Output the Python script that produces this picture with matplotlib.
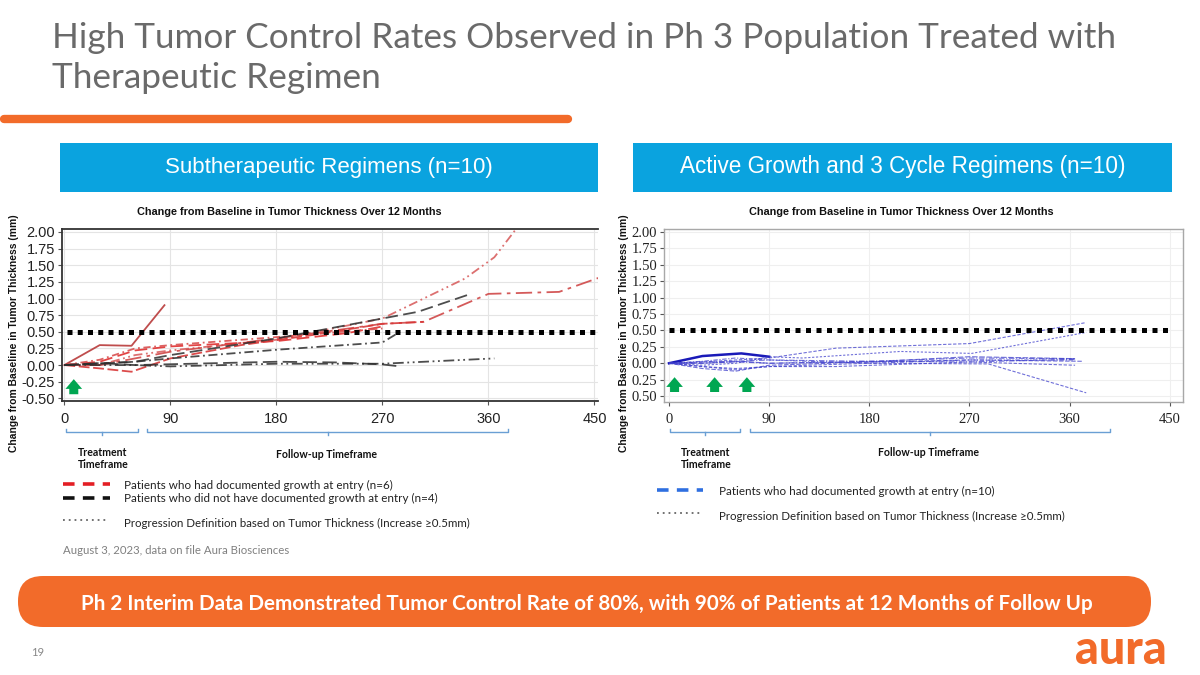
import matplotlib
matplotlib.use("Agg")
import matplotlib.pyplot as plt
from matplotlib.patches import FancyBboxPatch, Rectangle
from matplotlib.lines import Line2D

# ---------------- data ----------------
x_ticks = [0, 90, 180, 270, 360, 450]
y_ticks = [2.00, 1.75, 1.50, 1.25, 1.00, 0.75, 0.50, 0.25, 0.00, -0.25, -0.50]
left_ytick_labels = ["2.00", "1.75", "1.50", "1.25", "1.00", "0.75", "0.50", "0.25", "0.00", "-0.25", "-0.50"]
right_ytick_labels = ["2.00", "1.75", "1.50", "1.25", "1.00", "0.75", "0.50", "0.25", "0.00", "0.25", "0.50"]
progression_threshold = 0.5

# Left panel: patients with documented growth at entry (red, n=6)
red_days = [
    [0, 30, 57, 85],
    [0, 30, 60, 90, 180, 270, 340, 365, 388],
    [0, 30, 60, 90, 180, 270, 305, 360, 420, 455],
    [0, 30, 60, 90, 180, 240, 270],
    [0, 30, 57, 90, 150, 210, 270, 305],
    [0, 30, 60, 90, 180, 270],
]
red_vals = [
    [0.00, 0.30, 0.29, 0.90],
    [0.00, 0.00, 0.15, 0.22, 0.38, 0.70, 1.30, 1.62, 2.15],
    [0.00, 0.00, 0.10, 0.20, 0.40, 0.62, 0.65, 1.07, 1.10, 1.32],
    [0.00, 0.05, 0.22, 0.28, 0.36, 0.48, 0.58],
    [0.00, -0.05, -0.10, 0.10, 0.30, 0.45, 0.62, 0.65],
    [0.00, 0.08, 0.25, 0.30, 0.42, 0.55],
]
# Left panel: patients without documented growth at entry (black, n=4)
black_days = [
    [0, 30, 60, 90, 180, 270, 300, 345],
    [0, 60, 90, 180, 270, 285],
    [0, 60, 90, 180, 270, 365],
    [0, 30, 60, 180, 230, 270, 285],
]
black_vals = [
    [0.00, 0.02, 0.05, 0.15, 0.40, 0.70, 0.80, 1.07],
    [0.00, 0.05, 0.10, 0.23, 0.34, 0.50],
    [0.00, 0.00, -0.02, 0.02, 0.02, 0.10],
    [0.00, 0.03, 0.00, 0.05, 0.04, 0.01, -0.02],
]
# Right panel: patients with documented growth at entry (blue, n=10)
blue_days = [
    [0, 30, 65, 90],
    [0, 30, 60, 90, 150, 270, 375],
    [0, 30, 60, 90, 120, 208, 272, 375],
    [0, 30, 60, 90, 180, 287, 375],
    [0, 30, 60, 90, 180, 270, 365],
    [0, 30, 60, 90, 180, 270, 372],
    [0, 30, 60, 90, 180, 270, 365],
    [0, 30, 60, 90, 150, 270, 365],
    [0, 30, 60, 90, 180, 270, 365],
    [0, 30, 65, 90, 180, 270, 365],
]
blue_vals = [
    [0.00, 0.11, 0.15, 0.10],
    [0.00, 0.02, 0.05, 0.08, 0.23, 0.30, 0.62],
    [0.00, -0.03, 0.00, 0.10, 0.08, 0.18, 0.15, 0.47],
    [0.00, -0.05, -0.10, -0.05, 0.00, -0.01, -0.45],
    [0.00, 0.02, 0.03, 0.05, 0.03, 0.08, 0.07],
    [0.00, -0.08, -0.12, -0.03, 0.02, 0.05, 0.03],
    [0.00, 0.00, 0.02, 0.00, 0.03, 0.02, 0.06],
    [0.00, -0.05, -0.08, -0.05, -0.05, 0.02, -0.03],
    [0.00, 0.03, 0.08, 0.05, 0.00, 0.05, 0.05],
    [0.00, 0.00, 0.03, 0.00, 0.02, 0.10, 0.07],
]
left_arrow_days = [8]
right_arrow_days = [5, 41, 70]

# ---------------- text ----------------
title_lines = ["High Tumor Control Rates Observed in Ph 3 Population Treated with",
               "Therapeutic Regimen"]
left_header = "Subtherapeutic Regimens (n=10)"
right_header = "Active Growth and 3 Cycle Regimens (n=10)"
chart_title = "Change from Baseline in Tumor Thickness Over 12 Months"
y_label = "Change from Baseline in Tumor Thickness (mm)"
left_legend = ["Patients who had documented growth at entry (n=6)",
               "Patients who did not have documented growth at entry (n=4)",
               "Progression Definition based on Tumor Thickness (Increase \u22650.5mm)"]
right_legend = ["Patients who had documented growth at entry (n=10)",
                "Progression Definition based on Tumor Thickness (Increase \u22650.5mm)"]
source_note = "August 3, 2023, data on file Aura Biosciences"
banner_text = "Ph 2 Interim Data Demonstrated Tumor Control Rate of 80%, with 90% of Patients at 12 Months of Follow Up"

ORANGE = "#F26B2A"
BLUE_BOX = "#0AA3DF"
GRAY_T = "#6A6A6A"
BRACKET = "#6A9FD4"
GREEN = "#00A651"

W, H = 1200, 675
fig = plt.figure(figsize=(12, 6.75), dpi=100)
fig.patch.set_facecolor("white")

deco = fig.add_axes([0, 0, 1, 1], zorder=0)
deco.set_xlim(0, W)
deco.set_ylim(H, 0)
deco.axis("off")

renderer = fig.canvas.get_renderer()


def fit_text(x, y, s, width_px, ref_size=12, ax=deco, **kw):
    t = ax.text(x, y, s, fontsize=ref_size, **kw)
    bb = t.get_window_extent(renderer=renderer)
    t.set_fontsize(ref_size * width_px / bb.width)
    return t


SANS = ["Lato", "DejaVu Sans"]
NARROW = ["Liberation Sans Narrow", "Liberation Sans", "DejaVu Sans"]
LIB = ["Liberation Sans", "DejaVu Sans"]

# Title
t1 = fit_text(52, 38, title_lines[0], 1061, family=SANS, weight="normal",
              color=GRAY_T, va="center", ha="left")
deco.text(52, 78, title_lines[1], fontsize=t1.get_fontsize(), family=SANS,
          weight="normal", color=GRAY_T, va="center", ha="left")

# Orange underline
deco.plot([4, 568], [119, 119], color=ORANGE, lw=6, solid_capstyle="round")

# Header boxes
for (x0, x1, txt, tw) in [(60, 598, left_header, 328), (633, 1172, right_header, 446)]:
    deco.add_patch(Rectangle((x0, 143), x1 - x0, 49, color=BLUE_BOX, lw=0))
    fit_text((x0 + x1) / 2, 167, txt, tw, family=LIB, color="white", ha="center", va="center")

# Chart titles
fit_text(289, 212, chart_title, 302, family=NARROW, weight="bold", color="#111111",
         ha="center", va="center")
fit_text(901, 212, chart_title, 302, family=NARROW, weight="bold", color="#111111",
         ha="center", va="center")

# Y labels
for xl in (14, 624):
    t = deco.text(xl, 333, y_label, fontsize=10, family=NARROW, weight="bold",
                  rotation=90, ha="center", va="center", color="#111111")
    bb = t.get_window_extent(renderer=renderer)
    t.set_fontsize(10 * 236 / bb.height)


# ---------------- charts ----------------
def setup_axes(rect, xlim, ylim, serif, ylabels, frame_color, frame_lw, right_spine):
    ax = fig.add_axes(rect, zorder=2)
    ax.set_facecolor("white")
    ax.set_xlim(*xlim)
    ax.set_ylim(*ylim)
    ax.set_xticks(x_ticks)
    ax.set_yticks(y_ticks)
    ax.set_yticklabels(ylabels)
    fam = ["Liberation Serif", "DejaVu Serif"] if serif else NARROW
    for lab in ax.get_xticklabels() + ax.get_yticklabels():
        lab.set_family(fam)
        lab.set_fontsize(10.5)
        lab.set_color("#222222")
    ax.tick_params(axis="both", direction="out", length=3, width=0.8, color="#555555", pad=2)
    ax.tick_params(axis="x", pad=5)
    ax.grid(True, color="#E4E4E4", lw=0.8)
    ax.set_axisbelow(True)
    for sp in ax.spines.values():
        sp.set_color(frame_color)
        sp.set_linewidth(frame_lw)
    ax.spines["right"].set_visible(right_spine)
    return ax


# left axes: pixel box 62..598 x, 229..401 y
axL = setup_axes([62 / W, 1 - 401 / H, (598 - 62) / W, (401 - 229) / H],
                 (-2, 453), (-0.54, 2.045), False, left_ytick_labels, "#333333", 1.3, False)
# right axes: pixel box 664..1183, 229..402
axR = setup_axes([664 / W, 1 - 402 / H, (1183 - 664) / W, (402 - 229) / H],
                 (-4.5, 462), (-0.59, 2.045), True, right_ytick_labels, "#A8A8A8", 1.0, True)
axR.grid(True, color="#EFEFEF", lw=0.8)

red_styles = ["-", (0, (5, 2, 1, 2, 1, 2)), (0, (9, 3, 2, 3)), (0, (7, 3)), (0, (6, 2)), (0, (4, 2, 1, 2))]
red_colors = ["#B83A3A", "#D96060", "#D04848", "#E03030", "#D83838", "#D85050"]
for d, v, ls, c in zip(red_days, red_vals, red_styles, red_colors):
    axL.plot(d, v, color=c, ls=ls, lw=1.3, alpha=0.9, clip_on=True, zorder=3)

black_styles = [(0, (7, 3)), (0, (5, 2, 1, 2)), (0, (6, 2, 1, 2, 1, 2)), (0, (8, 3))]
for d, v, ls in zip(black_days, black_vals, black_styles):
    axL.plot(d, v, color="#2E2E2E", ls=ls, lw=1.3, alpha=0.85, zorder=3)

blue_styles = ["-", (0, (3, 1.5)), (0, (2, 1.5)), (0, (3, 1.5)), (0, (5, 1.5, 1, 1.5)),
               (0, (4, 1.5)), (0, (5, 1.5, 1, 1.5)), (0, (3, 1.5)), (0, (4, 1.5, 1, 1.5)), (0, (5, 1.5))]
for i, (d, v, ls) in enumerate(zip(blue_days, blue_vals, blue_styles)):
    if i == 0:
        axR.plot(d, v, color="#1A1AB8", ls=ls, lw=1.8, zorder=3)
    else:
        axR.plot(d, v, color="#4040CC", ls=ls, lw=0.8, alpha=0.75, zorder=3)

# Progression threshold lines
axL.plot([2, 453], [progression_threshold] * 2, color="black", lw=3.6,
         ls=(0, (1, 1.05)), zorder=4, solid_capstyle="butt")
axR.plot([0, 452], [progression_threshold] * 2, color="black", lw=3.6,
         ls=(0, (1, 1.1)), zorder=4)

# Green arrows
for ax, days in ((axL, left_arrow_days), (axR, right_arrow_days)):
    for dx in days:
        ax.annotate("", xy=(dx, -0.17), xytext=(dx, -0.48),
                    arrowprops=dict(arrowstyle="simple,head_width=1.2,head_length=0.7,tail_width=0.65",
                                    color=GREEN, lw=0), zorder=5)


# ---------------- brackets & labels ----------------
def bracket(x0, x1, y=432):
    xm = (x0 + x1) / 2
    deco.plot([x0, x0, x1, x1], [y - 3, y, y, y - 3], color=BRACKET, lw=1.0)
    deco.plot([xm, xm], [y, y + 3], color=BRACKET, lw=1.0)


bracket(66, 138)
bracket(147, 508)
bracket(670, 740)
bracket(750, 1110)

lab_kw = dict(family=SANS, weight="bold", color="#111111", ha="center", va="center", fontsize=7.6)
deco.text(103, 452, "Treatment", **lab_kw)
deco.text(103, 465, "Timeframe", **lab_kw)
deco.text(326, 455, "Follow-up Timeframe", **lab_kw)
deco.text(706, 452, "Treatment", **lab_kw)
deco.text(706, 464, "Timeframe", **lab_kw)
deco.text(928, 453, "Follow-up Timeframe", **lab_kw)

# Legends
dash = (0, (3.2, 2.3))
deco.add_line(Line2D([63, 110], [484, 484], color="#E31E24", lw=2.6, ls=dash))
deco.add_line(Line2D([63, 110], [498, 498], color="#111111", lw=2.6, ls=dash))
deco.add_line(Line2D([63, 108], [520, 520], color="#666666", lw=1.3, ls=(0, (1, 2.2))))
leg_kw = dict(family=SANS, color="#222222", ha="left", va="center")
fit_text(124, 485, left_legend[0], 265, **leg_kw)
fit_text(124, 498, left_legend[1], 311, **leg_kw)
fit_text(124, 523, left_legend[2], 347, **leg_kw)

deco.add_line(Line2D([657, 703], [490, 490], color="#2F6FE0", lw=2.6, ls=dash))
deco.add_line(Line2D([657, 702], [513, 513], color="#666666", lw=1.3, ls=(0, (1, 2.2))))
fit_text(719, 491, right_legend[0], 273, **leg_kw)
fit_text(719, 516, right_legend[1], 347, **leg_kw)

fit_text(63, 551, source_note, 226, family=SANS, color="#808080", ha="left", va="center")

# Banner
deco.add_patch(FancyBboxPatch((18, 576), 1133, 51,
                              boxstyle="round,pad=0,rounding_size=25",
                              facecolor=ORANGE, edgecolor="none"))
fit_text(587, 604, banner_text, 1005, family=SANS, weight="bold",
         color="white", ha="center", va="center")

# Footer
deco.text(38, 653, "19", fontsize=8, family=SANS, color="#888888", ha="center", va="center")
fit_text(1121, 650, "aura", 93, family=SANS, weight="black",
         color=ORANGE, ha="center", va="center")

fig.savefig("out.png", dpi=100, facecolor="white")
